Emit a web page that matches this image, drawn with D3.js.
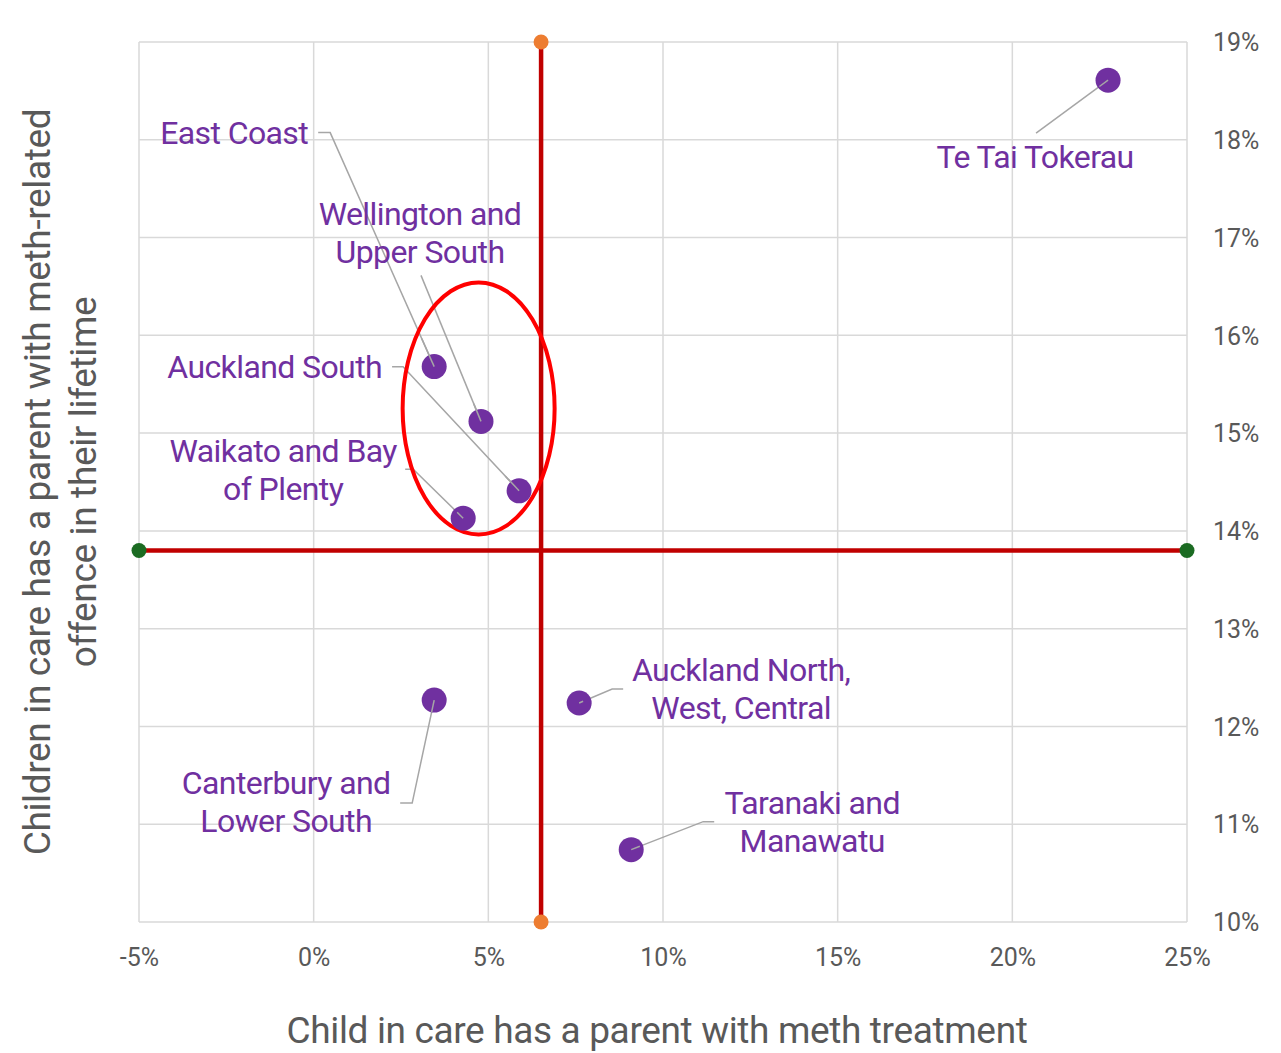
<!DOCTYPE html>
<html><head><meta charset="utf-8">
<script src="https://cdn.jsdelivr.net/npm/d3@7"></script>
<style>body{margin:0;background:#fff}text{font-family:Roboto,"Noto Sans",sans-serif}</style>
</head><body><svg id="c" width="1281" height="1053"></svg>
<script>
// Data
const regions = ["Te Tai Tokerau","East Coast","Wellington and Upper South","Auckland South","Waikato and Bay of Plenty","Canterbury and Lower South","Auckland North, West, Central","Taranaki and Manawatu"];
const methTreatment = [22.74, 3.45, 4.79, 5.88, 4.28, 3.45, 7.6, 9.09];
const methOffence   = [18.61, 15.68, 15.12, 14.41, 14.13, 12.27, 12.24, 10.74];
const labelLines = [["Te Tai Tokerau"],["East Coast"],["Wellington and","Upper South"],["Auckland South"],["Waikato and Bay","of Plenty"],["Canterbury and","Lower South"],["Auckland North,","West, Central"],["Taranaki and","Manawatu"]];
const avgX = 6.51, avgY = 13.80;
const xTicks = [-5,0,5,10,15,20,25];
const yTicks = [10,11,12,13,14,15,16,17,18,19];
const xTitle = "Child in care has a parent with meth treatment";
const yTitle = ["Children in care has a parent with meth-related","offence in their lifetime"];
// annotation layout (pixel offsets from point)
const labelLayout = [
 {dx:-73,dy:77,anchor:"middle",leader:[[-72,53]]},
 {dx:-126,dy:-234,anchor:"end",leader:[[-104,-234],[-116,-234]]},
 {dx:-61,dy:-208,anchor:"middle",leader:[[-60,-146]]},
 {dx:-137,dy:-124,anchor:"end",leader:[[-116,-124],[-127,-124]]},
 {dx:-180,dy:-67,anchor:"middle",leader:[[-50,-49],[-58,-49]]},
 {dx:-148,dy:83,anchor:"middle",leader:[[-22,103],[-34,103]]},
 {dx:162,dy:-33,anchor:"middle",leader:[[33,-14],[44,-14]]},
 {dx:181,dy:-47,anchor:"middle",leader:[[72,-28],[83,-28]]}
];

const svg = d3.select("#c");
const m = {l:139,r:1187,t:42,b:922};
const x = d3.scaleLinear().domain([-5,25]).range([m.l,m.r]);
const y = d3.scaleLinear().domain([10,19]).range([m.b,m.t]);
const grid = "#d9d9d9";

const g = svg.append("g");
g.selectAll(".vx").data(xTicks).join("line").attr("x1",d=>x(d)).attr("x2",d=>x(d)).attr("y1",m.t).attr("y2",m.b).attr("stroke",grid).attr("stroke-width",1.5);
g.selectAll(".hy").data(yTicks).join("line").attr("y1",d=>y(d)).attr("y2",d=>y(d)).attr("x1",m.l).attr("x2",m.r).attr("stroke",grid).attr("stroke-width",1.5);

// axes
const xAxis = svg.append("g").attr("transform",`translate(0,${m.b})`).call(d3.axisBottom(x).tickValues(xTicks).tickFormat(d=>d+"%").tickSize(0).tickPadding(26));
const yAxis = svg.append("g").attr("transform",`translate(${m.r},0)`).call(d3.axisRight(y).tickValues(yTicks).tickFormat(d=>d+"%").tickSize(0).tickPadding(26));
[xAxis,yAxis].forEach(a=>{a.select(".domain").remove();a.selectAll("text").attr("fill","#595959").style("font-size","25px").style("font-family","Roboto");});
yAxis.selectAll("text").attr("dy","0.35em");
xAxis.selectAll("text").attr("dy","0.35em").attr("y",35);

// average lines
svg.append("line").attr("x1",x(avgX)).attr("x2",x(avgX)).attr("y1",y(19)).attr("y2",y(10)).attr("stroke","#c00000").attr("stroke-width",4.5);
svg.append("line").attr("x1",x(-5)).attr("x2",x(25)).attr("y1",y(avgY)).attr("y2",y(avgY)).attr("stroke","#c00000").attr("stroke-width",4.5);
svg.selectAll(".od").data([19,10]).join("circle").attr("cx",x(avgX)).attr("cy",d=>y(d)).attr("r",7.5).attr("fill","#ed7d31");
svg.selectAll(".gd").data([-5,25]).join("circle").attr("cx",d=>x(d)).attr("cy",y(avgY)).attr("r",7.5).attr("fill","#1b6b22");

// leaders
const pts = regions.map((r,i)=>({r,px:x(methTreatment[i]),py:y(methOffence[i]),lines:labelLines[i],L:labelLayout[i]}));
svg.selectAll(".ld").data(pts).join("path")
 .attr("d",d=>{let s=`M${d.px},${d.py}`;d.L.leader.forEach(p=>s+=`L${d.px+p[0]},${d.py+p[1]}`);return s;})
 .attr("fill","none").attr("stroke","#a6a6a6").attr("stroke-width",1.5);

// ellipse
svg.append("ellipse").attr("cx",(x(3.45)+x(5.88))/2+2).attr("cy",(y(15.68)+y(14.13))/2-34).attr("rx",76).attr("ry",126).attr("fill","none").attr("stroke","#ff0000").attr("stroke-width",4);

// points
svg.selectAll(".pt").data(pts).join("circle").attr("cx",d=>d.px).attr("cy",d=>d.py).attr("r",12.5).attr("fill","#7030a0");
svg.selectAll(".ld2").data(pts).join("path")
 .attr("d",d=>{const p=d.L.leader[0];return `M${d.px},${d.py}L${d.px+p[0]*0.12},${d.py+p[1]*0.12}`;})
 .attr("fill","none").attr("stroke","#a6a6a6").attr("stroke-width",1.5);

// labels
const lab = svg.selectAll(".lb").data(pts).join("text")
 .attr("text-anchor",d=>d.L.anchor).attr("fill","#7030a0").style("font-size","32px").style("letter-spacing","-0.6px");
lab.each(function(d){
  const t=d3.select(this);
  d.lines.forEach((ln,i)=>t.append("tspan").attr("x",d.px+d.L.dx).attr("y",d.py+d.L.dy+i*38).attr("dy","0.35em").text(ln));
});

// titles
svg.append("text").attr("x",657).attr("y",1030).attr("dy","0.35em").attr("text-anchor","middle").attr("fill","#595959").style("font-size","37px").style("letter-spacing","-0.35px").text(xTitle);
const yt = svg.append("text").attr("transform",`translate(60,${(m.t+m.b)/2}) rotate(-90)`).attr("text-anchor","middle").attr("fill","#595959").style("font-size","37px").style("letter-spacing","-0.35px");
yTitle.forEach((l,i)=>yt.append("tspan").attr("x",0).attr("y",(i-0.5)*46).attr("dy","0.35em").text(l));
</script></body></html>
